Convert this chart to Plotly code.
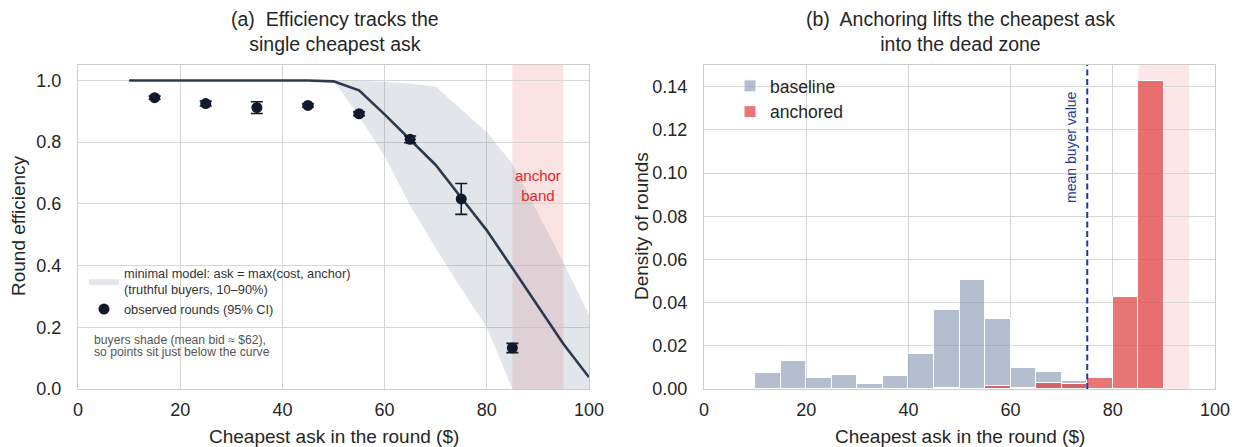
import plotly.graph_objects as go

# ---------------- Panel (a) data ----------------
model_x = [10, 15, 20, 25, 30, 35, 40, 45, 50, 55, 60, 65, 70, 75, 80, 85, 90, 95, 100]
model_mid = [1.0, 1.0, 1.0, 1.0, 1.0, 1.0, 1.0, 1.0, 0.997, 0.968, 0.89, 0.809, 0.726, 0.62, 0.514, 0.392, 0.267, 0.146, 0.038]
band_lo = [1.0, 1.0, 1.0, 1.0, 1.0, 1.0, 1.0, 1.0, 1.0, 0.884, 0.755, 0.594, 0.456, 0.325, 0.2, 0.0, 0.0, 0.0, 0.0]
band_hi = [1.0, 1.0, 1.0, 1.0, 1.0, 1.0, 1.0, 1.0, 1.0, 1.0, 0.995, 0.99, 0.98, 0.906, 0.832, 0.73, 0.57, 0.41, 0.24]

obs_x = [15, 25, 35, 45, 55, 65, 75, 85]
obs_y = [0.944, 0.925, 0.912, 0.919, 0.892, 0.809, 0.616, 0.133]
obs_err = [0.005, 0.008, 0.019, 0.005, 0.006, 0.011, 0.05, 0.015]

anchor_band = [85, 95]

# ---------------- Panel (b) data ----------------
bin_edges = [10, 15, 20, 25, 30, 35, 40, 45, 50, 55, 60, 65, 70, 75, 80, 85, 90]
baseline_density = [0.0075, 0.0131, 0.0049, 0.0065, 0.0022, 0.0058, 0.0162, 0.0365, 0.0506,
                    0.0325, 0.0098, 0.0078, 0.0038, None, None, None]
anchored_density = [None, None, None, None, None, None, None, 0.0004, None,
                    0.0015, 0.0004, 0.0029, 0.0025, 0.0052, 0.0428, 0.1428]
mean_buyer_value = 75

x_ticks = [0, 20, 40, 60, 80, 100]

note_lines = ["buyers shade (mean bid ≈ $62),", "so points sit just below the curve"]

FONT = "Liberation Sans, Arial, Helvetica, sans-serif"
DARK = "#262626"
GRID = "#d6d6d6"
SPINE = "#cccccc"
LINE_C = "#2c3a50"
PT_C = "#111a2c"
NAVY = "#1f3a96"

bin_centers = [(a + b) / 2 for a, b in zip(bin_edges[:-1], bin_edges[1:])]
bin_widths = [b - a for a, b in zip(bin_edges[:-1], bin_edges[1:])]

fig = go.Figure()

# band (10-90%)
fig.add_trace(go.Scatter(x=model_x, y=band_lo, mode="lines", line=dict(width=0),
                         showlegend=False, hoverinfo="skip", xaxis="x", yaxis="y"))
fig.add_trace(go.Scatter(x=model_x, y=band_hi, mode="lines", line=dict(width=0),
                         fill="tonexty", fillcolor="rgba(120,135,160,0.21)",
                         name="minimal model: ask = max(cost, anchor)<br>(truthful buyers, 10–90%)",
                         legend="legend", xaxis="x", yaxis="y"))
fig.add_trace(go.Scatter(x=model_x, y=model_mid, mode="lines",
                         line=dict(color=LINE_C, width=2.6), showlegend=False,
                         xaxis="x", yaxis="y"))
fig.add_trace(go.Scatter(x=obs_x, y=obs_y, mode="markers",
                         marker=dict(color=PT_C, size=11),
                         error_y=dict(type="data", array=obs_err, color=PT_C, thickness=1.6, width=6),
                         name="observed rounds (95% CI)", legend="legend",
                         xaxis="x", yaxis="y"))

# histograms
fig.add_trace(go.Bar(x=bin_centers, y=baseline_density, width=bin_widths,
                     marker=dict(color="rgba(135,150,176,0.62)", line=dict(color="white", width=1)),
                     name="baseline", legend="legend2", xaxis="x2", yaxis="y2"))
fig.add_trace(go.Bar(x=bin_centers, y=anchored_density, width=bin_widths,
                     marker=dict(color="rgba(224,60,60,0.7)", line=dict(color="white", width=1)),
                     name="anchored", legend="legend2", xaxis="x2", yaxis="y2"))

shapes = [
    dict(type="rect", xref="x", yref="y domain", x0=anchor_band[0], x1=anchor_band[1], y0=0, y1=1,
         fillcolor="rgba(224,60,60,0.14)", line=dict(width=0), layer="below"),
    dict(type="rect", xref="x2", yref="y2 domain", x0=anchor_band[0], x1=anchor_band[1], y0=0, y1=1,
         fillcolor="rgba(224,60,60,0.12)", line=dict(width=0), layer="below"),
    dict(type="line", xref="x2", yref="y2 domain", x0=mean_buyer_value, x1=mean_buyer_value, y0=0, y1=1,
         line=dict(color=NAVY, width=2, dash="6px,3.5px"), layer="above"),
]

annotations = [
    dict(text="(a)  Efficiency tracks the<br>single cheapest ask", xref="paper", yref="paper",
         x=335 / 1235, y=1 - 6 / 447, xanchor="center", yanchor="top", showarrow=False,
         font=dict(size=19.5, color=DARK, family=FONT)),
    dict(text="(b)  Anchoring lifts the cheapest ask<br>into the dead zone", xref="paper", yref="paper",
         x=960 / 1235, y=1 - 6 / 447, xanchor="center", yanchor="top", showarrow=False,
         font=dict(size=19.5, color=DARK, family=FONT)),
    dict(text="Cheapest ask in the round ($)", xref="paper", yref="paper",
         x=334 / 1235, y=1 - 436 / 447, xanchor="center", yanchor="middle", showarrow=False,
         font=dict(size=19, color=DARK, family=FONT)),
    dict(text="Cheapest ask in the round ($)", xref="paper", yref="paper",
         x=960 / 1235, y=1 - 436 / 447, xanchor="center", yanchor="middle", showarrow=False,
         font=dict(size=19, color=DARK, family=FONT)),
    dict(text="Round efficiency", xref="paper", yref="paper", textangle=-90,
         x=18 / 1235, y=1 - 226 / 447, xanchor="center", yanchor="middle", showarrow=False,
         font=dict(size=19, color=DARK, family=FONT)),
    dict(text="Density of rounds", xref="paper", yref="paper", textangle=-90,
         x=641 / 1235, y=1 - 226 / 447, xanchor="center", yanchor="middle", showarrow=False,
         font=dict(size=19, color=DARK, family=FONT)),
    dict(text="anchor<br>band", xref="x", yref="y", x=90, y=0.66, showarrow=False,
         xanchor="center", yanchor="middle",
         font=dict(size=15, color="#e3262b", family=FONT)),
    dict(text="mean buyer value", xref="x2", yref="y2", x=71.8, y=0.112, textangle=-90,
         showarrow=False, xanchor="center", yanchor="middle",
         font=dict(size=14, color=NAVY, family=FONT)),
]
for i, line in enumerate(note_lines):
    annotations.append(dict(text=line, xref="paper", yref="paper", x=92 / 1235,
                            y=1 - (340 + 11.5 * i) / 447, xanchor="left", yanchor="middle",
                            showarrow=False, font=dict(size=12.2, color="#555555", family=FONT)))

axis_common = dict(showgrid=True, gridcolor=GRID, gridwidth=1, showline=True, linecolor=SPINE,
                   linewidth=1.3, mirror=True, zeroline=False, automargin=False,
                   tickfont=dict(size=18, color=DARK, family=FONT))

fig.update_layout(
    width=1235, height=447,
    margin=dict(l=0, r=0, t=0, b=0),
    paper_bgcolor="white", plot_bgcolor="white",
    barmode="overlay", bargap=0,
    font=dict(family=FONT, color=DARK),
    xaxis=dict(domain=[78 / 1235, 589 / 1235], range=[0, 100], tickvals=x_ticks,
               ticks="outside", ticklen=4, tickcolor="rgba(0,0,0,0)", anchor="y", **axis_common),
    yaxis=dict(domain=[1 - 389 / 447, 1 - 65 / 447], range=[0, 1.05],
               tickvals=[0, 0.2, 0.4, 0.6, 0.8, 1.0], tickformat=".1f",
               ticks="outside", ticklen=12, tickcolor="rgba(0,0,0,0)", anchor="x", **axis_common),
    xaxis2=dict(domain=[704 / 1235, 1215 / 1235], range=[0, 100], tickvals=x_ticks,
                ticks="outside", ticklen=4, tickcolor="rgba(0,0,0,0)", anchor="y2", **axis_common),
    yaxis2=dict(domain=[1 - 389 / 447, 1 - 65 / 447], range=[0, 0.15],
                tickvals=[0, 0.02, 0.04, 0.06, 0.08, 0.10, 0.12, 0.14], tickformat=".2f",
                ticks="outside", ticklen=12, tickcolor="rgba(0,0,0,0)", anchor="x2", **axis_common),
    legend=dict(x=84 / 1235, y=1 - 258 / 447, xanchor="left", yanchor="top", traceorder="normal",
                bgcolor="rgba(255,255,255,0)", font=dict(size=12.8, color="#333333", family=FONT),
                tracegroupgap=0, itemwidth=30),
    legend2=dict(x=730 / 1235, y=1 - 68 / 447, xanchor="left", yanchor="top", traceorder="normal",
                 bgcolor="rgba(255,255,255,0)", font=dict(size=17.5, color=DARK, family=FONT),
                 itemwidth=30),
    shapes=shapes,
    annotations=annotations,
)

fig.write_html("out.html")
